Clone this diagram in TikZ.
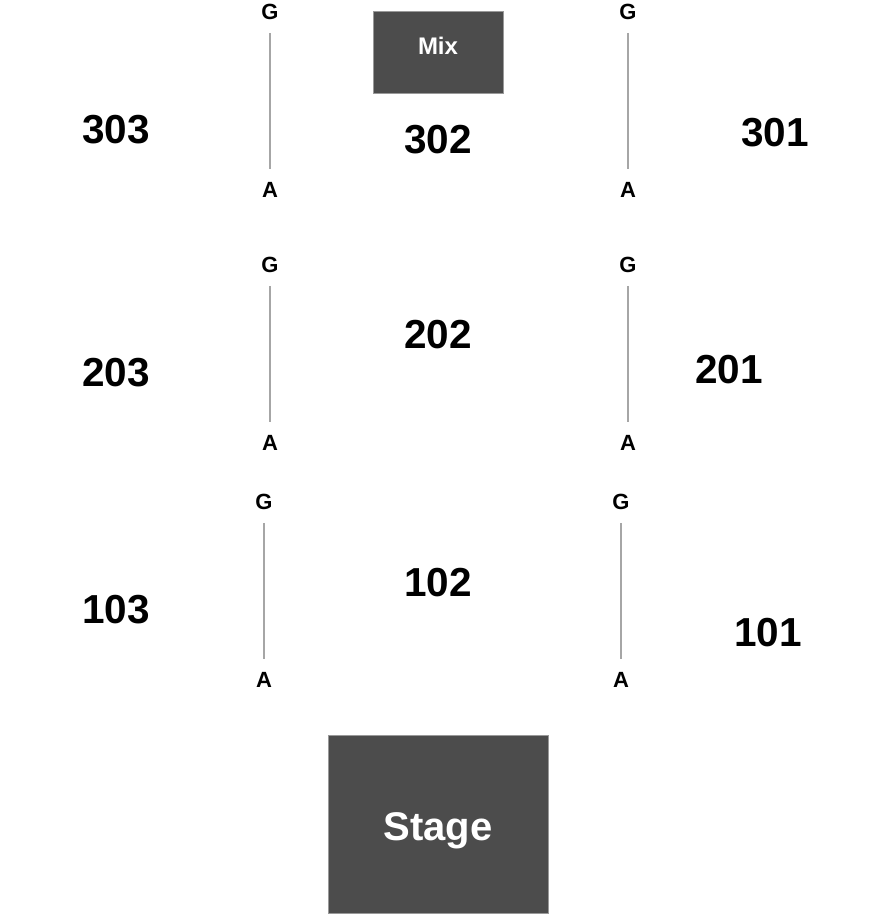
\documentclass[tikz,border=0pt]{standalone}
\usepackage{fontspec}
\setmainfont{Liberation Sans}
\begin{document}
\begin{tikzpicture}[x=1pt,y=-1pt,
  sec/.style={font=\fontsize{40.5}{41}\selectfont\bfseries, inner sep=0pt},
  ga/.style={font=\fontsize{22}{22}\selectfont\bfseries, inner sep=0pt},
  aisle/.style={draw=gray!70, line width=1.3pt, shorten <=13pt, shorten >=13pt},
  darkbox/.style={fill=black!70, draw=black!40, line width=0.6pt},
  boxtext/.style={text=white, inner sep=0pt}]
\useasboundingbox (0,0) rectangle (883,916);
% boxes
\node[darkbox, minimum width=130pt, minimum height=82pt] (mix) at (438,52) {};
\node[boxtext, font=\fontsize{24}{24}\selectfont\bfseries] (mixt) at (438,46) {Mix};
\node[darkbox, minimum width=220pt, minimum height=178pt] (stage) at (438,824) {};
\node[boxtext, font=\fontsize{40}{40}\selectfont\bfseries] (staget) at (438,831) {Stage};
% section labels
\node[sec] (s303) at (116,130) {303};
\node[sec] (s302) at (438,140) {302};
\node[sec] (s301) at (775,133) {301};
\node[sec] (s203) at (116,373) {203};
\node[sec] (s202) at (438,335) {202};
\node[sec] (s201) at (729,370) {201};
\node[sec] (s103) at (116,610) {103};
\node[sec] (s102) at (438,583) {102};
\node[sec] (s101) at (768,633) {101};
% aisles
\node[ga] (g1) at (270,12) {G};  \node[ga] (a1) at (270,190) {A};
\node[ga] (g2) at (628,12) {G};  \node[ga] (a2) at (628,190) {A};
\node[ga] (g3) at (270,265) {G}; \node[ga] (a3) at (270,443) {A};
\node[ga] (g4) at (628,265) {G}; \node[ga] (a4) at (628,443) {A};
\node[ga] (g5) at (264,502) {G}; \node[ga] (a5) at (264,680) {A};
\node[ga] (g6) at (621,502) {G}; \node[ga] (a6) at (621,680) {A};
\draw[aisle] (g1) -- (a1);
\draw[aisle] (g2) -- (a2);
\draw[aisle] (g3) -- (a3);
\draw[aisle] (g4) -- (a4);
\draw[aisle] (g5) -- (a5);
\draw[aisle] (g6) -- (a6);
\end{tikzpicture}
\end{document}
